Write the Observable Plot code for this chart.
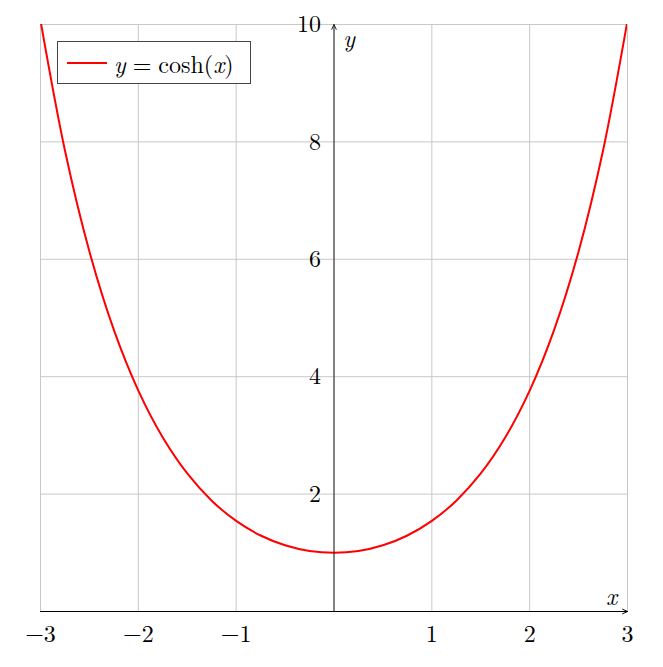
<!DOCTYPE html>
<html>
<head>
<meta charset="utf-8">
<script src="https://cdn.jsdelivr.net/npm/d3@7"></script>
<script src="https://cdn.jsdelivr.net/npm/@observablehq/plot@0.6"></script>
<style>
  html, body { margin: 0; padding: 0; background: #fff; }
  #wrap { position: relative; width: 663px; height: 667px; }
  #legend {
    position: absolute; left: 57px; top: 41px; width: 192px; height: 41px;
    border: 1px solid #444; background: #fff; box-sizing: content-box;
    font-family: "Latin Modern Roman", "Liberation Serif", serif; font-size: 24px; color: #000;
    display: flex; align-items: center; white-space: nowrap;
  }
  #legend .sw { width: 40px; height: 0; border-top: 2px solid #ff0000; margin-left: 9px; margin-right: 7px; }
  #legend .eq { margin: 0 7px; }
</style>
</head>
<body>
<div id="wrap">
  <div id="chart"></div>
  <div id="legend"><span class="sw"></span><span><i>y</i><span class="eq">=</span>cosh(<i>x</i>)</span></div>
</div>
<script>
const xs = [-3, -2.75, -2.5, -2.25, -2, -1.75, -1.5, -1.25, -1, -0.75, -0.5, -0.25, 0,
            0.25, 0.5, 0.75, 1, 1.25, 1.5, 1.75, 2, 2.25, 2.5, 2.75, 3];
const ys = [10.068, 7.853, 6.132, 4.797, 3.762, 2.964, 2.352, 1.888, 1.543, 1.295, 1.128, 1.031, 1.0,
            1.031, 1.128, 1.295, 1.543, 1.888, 2.352, 2.964, 3.762, 4.797, 6.132, 7.853, 10.068];
const xTicks = [-3, -2, -1, 1, 2, 3];
const yTicks = [2, 4, 6, 8, 10];
const xGrid = [-3, -2, -1, 0, 1, 2, 3];

const data = xs.map((x, i) => ({x, y: ys[i]}));
const fmt = d => d < 0 ? "\u2212" + (-d) : String(d);
const font = "'Latin Modern Roman', 'Liberation Serif', serif";

const chart = Plot.plot({
  width: 663,
  height: 667,
  marginLeft: 40,
  marginRight: 36,
  marginTop: 24,
  marginBottom: 56,
  x: {domain: [-3, 3], axis: null},
  y: {domain: [0, 10], axis: null},
  style: {fontFamily: font, background: "#fff"},
  marks: [
    Plot.ruleX(xGrid, {x: d => d, y1: 0, y2: 10, stroke: "#c8c8c8", strokeWidth: 1}),
    Plot.ruleY(yTicks, {y: d => d, x1: -3, x2: 3, stroke: "#c8c8c8", strokeWidth: 1}),
    Plot.line(data, {x: "x", y: "y", stroke: "#ff0000", strokeWidth: 2, curve: "catmull-rom", clip: true}),
    Plot.arrow([{x1: -3, y1: 0, x2: 3, y2: 0}], {x1: "x1", y1: "y1", x2: "x2", y2: "y2", stroke: "#000", strokeWidth: 1, headLength: 8, headAngle: 50}),
    Plot.arrow([{x1: 0, y1: 0, x2: 0, y2: 10}], {x1: "x1", y1: "y1", x2: "x2", y2: "y2", stroke: "#222", strokeWidth: 1, headLength: 8, headAngle: 50}),
    Plot.text(xTicks, {x: d => d, y: 0, text: fmt, dy: 23, fontSize: 24, fontFamily: font, fill: "#000", textAnchor: "middle"}),
    Plot.text(yTicks, {x: 0, y: d => d, text: fmt, dx: -13, fontSize: 24, fontFamily: font, fill: "#000", textAnchor: "end"}),
    Plot.text(["x"], {x: 3, y: 0, text: d => d, dx: -16, dy: -14, fontSize: 24, fontFamily: font, fontStyle: "italic", fill: "#000"}),
    Plot.text(["y"], {x: 0, y: 10, text: d => d, dx: 15, dy: 15, fontSize: 24, fontFamily: font, fontStyle: "italic", fill: "#000"})
  ]
});
document.getElementById("chart").appendChild(chart);
</script>
</body>
</html>
